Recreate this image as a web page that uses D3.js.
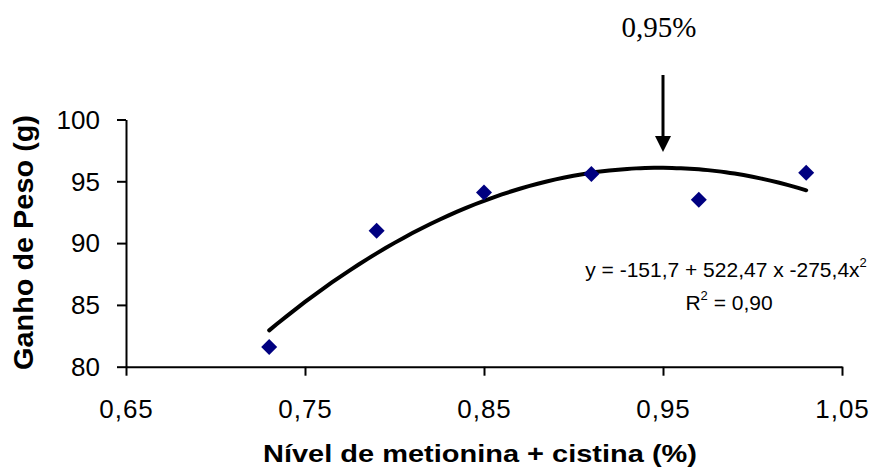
<!DOCTYPE html>
<html>
<head>
<meta charset="utf-8">
<script src="https://cdn.jsdelivr.net/npm/d3@7"></script>
<style>
  body { margin: 0; background: #fff; }
  svg { display: block; }
  .tick text { font-family: Arial, "Liberation Sans", sans-serif; font-size: 26px; fill: #000; }
</style>
</head>
<body>
<div class="chart"></div>
<script>
// data
var levels = [0.73, 0.79, 0.85, 0.91, 0.97, 1.03];
var weightGain = [81.6, 91.0, 94.1, 95.6, 93.5, 95.7];
var xTicks = [0.65, 0.75, 0.85, 0.95, 1.05];
var yTicks = [80, 85, 90, 95, 100];
// regression y = a + b x + c x^2, as printed on the chart
var coef = [-151.7, 522.47, -275.4];
var curveRange = [0.73, 1.03];
var optimum = 0.95;

var svgWidth = 875;
var svgHeight = 472;
var margin = { top: 119.5, right: 33, bottom: 105.3, left: 126 };
var width = svgWidth - margin.left - margin.right;
var height = svgHeight - margin.top - margin.bottom;

var svg = d3.select(".chart")
  .append("svg")
  .attr("width", svgWidth)
  .attr("height", svgHeight);

var chartGroup = svg.append("g")
  .attr("transform", `translate(${margin.left}, ${margin.top})`);

var xScale = d3.scaleLinear().domain([0.65, 1.05]).range([0, width]);
var yScale = d3.scaleLinear().domain([80, 100]).range([height, 0]);

var comma = d3.formatLocale({ decimal: ",", thousands: ".", grouping: [3], currency: ["", ""] });

var bottomAxis = d3.axisBottom(xScale)
  .tickValues(xTicks)
  .tickFormat(comma.format(".2f"))
  .tickSizeInner(9)
  .tickSizeOuter(0)
  .tickPadding(24);
var leftAxis = d3.axisLeft(yScale)
  .tickValues(yTicks)
  .tickFormat(d3.format("d"))
  .tickSizeInner(9)
  .tickSizeOuter(0)
  .tickPadding(17);

var xAxisG = chartGroup.append("g")
  .attr("transform", `translate(0, ${height})`)
  .call(bottomAxis);
var yAxisG = chartGroup.append("g").call(leftAxis);

[xAxisG, yAxisG].forEach(function(g) {
  g.selectAll("path, line").attr("stroke", "#000").attr("stroke-width", 2);
});
xAxisG.selectAll("text").attr("letter-spacing", "1px");
yAxisG.selectAll("text").attr("dy", "0.34em");

// fitted curve
var curveX = d3.range(curveRange[0], curveRange[1] + 0.0001, 0.005);
var line = d3.line()
  .x(d => xScale(d))
  .y(d => yScale(coef[0] + coef[1] * d + coef[2] * d * d))
  .curve(d3.curveBasis);
chartGroup.append("path")
  .datum(curveX)
  .attr("d", line)
  .attr("fill", "none")
  .attr("stroke", "#000")
  .attr("stroke-width", 4)
  .attr("stroke-linecap", "round");

// points
var points = levels.map((x, i) => ({ x: x, y: weightGain[i] }));
chartGroup.selectAll(".pt")
  .data(points)
  .enter()
  .append("path")
  .attr("class", "pt")
  .attr("d", d3.symbol(d3.symbolSquare, 128))
  .attr("transform", d => `translate(${xScale(d.x)}, ${yScale(d.y)}) rotate(45)`)
  .attr("fill", "#000080");

// arrow marking the optimum
var ax = xScale(optimum);
chartGroup.append("line")
  .attr("x1", ax).attr("x2", ax)
  .attr("y1", 75 - margin.top).attr("y2", 138 - margin.top)
  .attr("stroke", "#000")
  .attr("stroke-width", 3);
chartGroup.append("path")
  .attr("d", `M${ax - 8},${136 - margin.top} L${ax + 8},${136 - margin.top} L${ax},${152 - margin.top} Z`)
  .attr("fill", "#000");

chartGroup.append("text")
  .attr("x", ax - 4)
  .attr("y", 36.7 - margin.top)
  .attr("text-anchor", "middle")
  .style("font-family", "'Times New Roman', 'Liberation Serif', serif")
  .style("font-size", "29px")
  .text(comma.format(".2f")(optimum) + "%");

// equation
var eq = svg.append("text")
  .attr("x", 726)
  .attr("y", 277)
  .attr("text-anchor", "middle")
  .style("font-family", "Arial, 'Liberation Sans', sans-serif")
  .style("font-size", "21px");
eq.append("tspan").text("y = -151,7 + 522,47 x -275,4x");
eq.append("tspan").attr("dy", -10).style("font-size", "13px").text("2");

var r2 = svg.append("text")
  .attr("x", 729)
  .attr("y", 310)
  .attr("text-anchor", "middle")
  .style("font-family", "Arial, 'Liberation Sans', sans-serif")
  .style("font-size", "21px");
r2.append("tspan").text("R");
r2.append("tspan").attr("dy", -10).style("font-size", "13px").text("2");
r2.append("tspan").attr("dy", 10).text(" = 0,90");

// axis titles
svg.append("text")
  .attr("transform", "translate(33, 242.5) rotate(-90)")
  .attr("text-anchor", "middle")
  .attr("textLength", 255)
  .attr("lengthAdjust", "spacingAndGlyphs")
  .style("font-family", "Arial, 'Liberation Sans', sans-serif")
  .style("font-weight", "bold")
  .style("font-size", "27px")
  .text("Ganho de Peso (g)");

svg.append("text")
  .attr("x", 480)
  .attr("y", 461.7)
  .attr("text-anchor", "middle")
  .attr("textLength", 434)
  .attr("lengthAdjust", "spacingAndGlyphs")
  .style("font-family", "Arial, 'Liberation Sans', sans-serif")
  .style("font-weight", "bold")
  .style("font-size", "24px")
  .text("Nível de metionina + cistina (%)");
</script>
</body>
</html>
